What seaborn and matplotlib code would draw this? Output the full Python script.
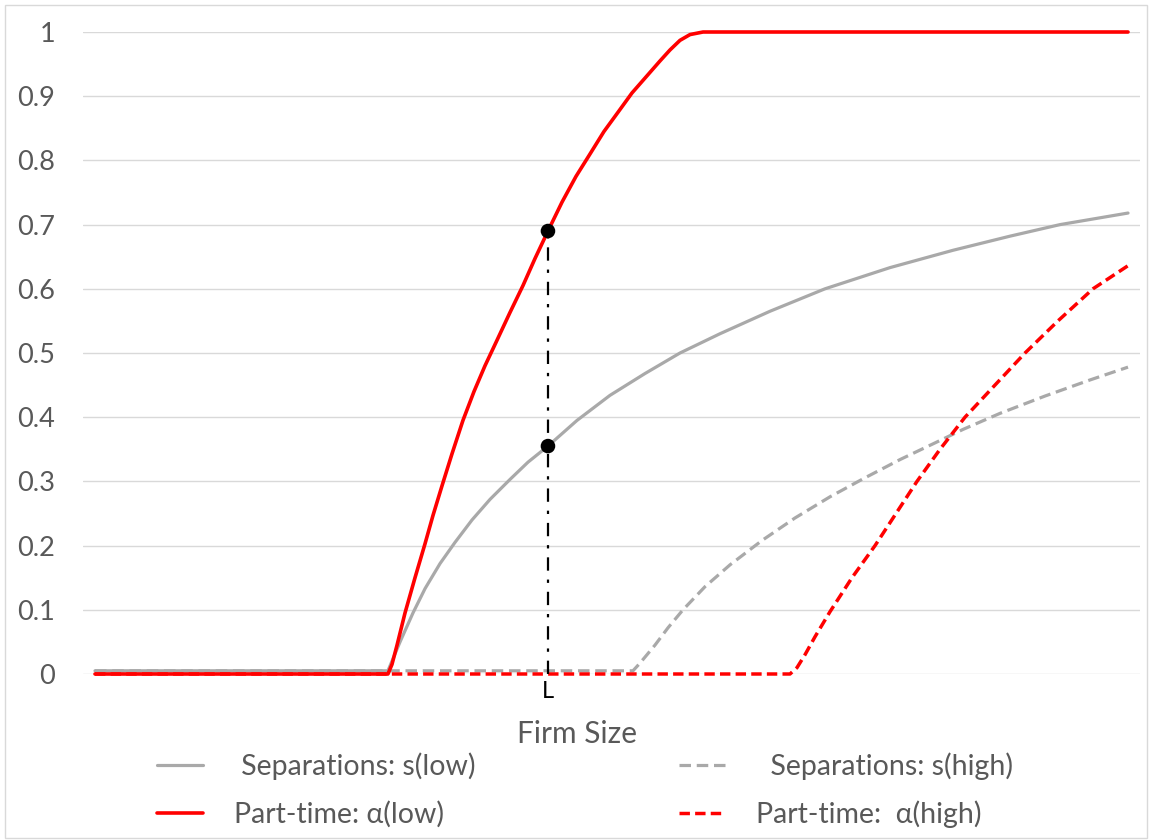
import numpy as np
import pandas as pd
import seaborn as sns
import matplotlib.pyplot as plt
from matplotlib.patches import Rectangle

# firm size runs on an arbitrary 0..100 scale (no numbers on the axis)
# s(low): separations, low type
s_low_x = [0, 28.36, 28.75, 29.53, 30.78, 31.95, 33.40, 34.85, 36.50, 38.24, 40.17, 41.92, 43.85,
           46.66, 49.85, 53.24, 56.63, 60.50, 65.34, 70.67, 76.96, 83.06, 88.58, 93.42, 100]
s_low_y = [0.005, 0.005, 0.02, 0.05, 0.095, 0.133, 0.172, 0.205, 0.24, 0.272, 0.303, 0.33, 0.355,
           0.395, 0.434, 0.468, 0.5, 0.53, 0.565, 0.6, 0.633, 0.66, 0.682, 0.70, 0.718]

# s(high): separations, high type
s_high_x = [0, 52.08, 52.76, 54.21, 55.47, 56.92, 59.05, 61.47, 64.57, 67.76, 71.15, 74.35,
            77.93, 81.32, 84.03, 87.61, 91.97, 96.32, 100]
s_high_y = [0.005, 0.005, 0.017, 0.045, 0.072, 0.1, 0.136, 0.17, 0.208, 0.243, 0.276, 0.304,
            0.334, 0.36, 0.381, 0.406, 0.433, 0.458, 0.478]

# alpha(low): part-time, low type
a_low_x = [0, 28.36, 28.75, 29.24, 30.01, 30.98, 31.95, 32.72, 33.59, 34.56, 35.62, 36.69,
           37.75, 38.92, 40.17, 41.43, 42.59, 43.85, 45.21, 46.56, 47.92, 49.27, 50.63,
           51.98, 53.34, 54.70, 55.66, 56.63, 57.60, 58.86, 100]
a_low_y = [0, 0, 0.015, 0.045, 0.095, 0.15, 0.203, 0.247, 0.293, 0.343, 0.395, 0.44,
           0.48, 0.52, 0.563, 0.605, 0.647, 0.69, 0.735, 0.775, 0.81, 0.845, 0.875,
           0.905, 0.93, 0.955, 0.972, 0.987, 0.996, 1.0, 1.0]

# alpha(high): part-time, high type
a_high_x = [0, 67.28, 67.96, 68.73, 69.70, 71.15, 73.28, 75.51, 77.54, 79.57, 81.80, 84.22,
            87.12, 90.03, 93.22, 96.61, 100]
a_high_y = [0, 0, 0.01, 0.03, 0.058, 0.097, 0.15, 0.2, 0.25, 0.3, 0.35, 0.4,
            0.45, 0.5, 0.55, 0.6, 0.636]

# marked firm size L and the two values there
L_x = 43.85
L_points_y = [0.69, 0.355]

ytick_vals = [0, 0.1, 0.2, 0.3, 0.4, 0.5, 0.6, 0.7, 0.8, 0.9, 1.0]
ytick_labels = ["0", "0.1", "0.2", "0.3", "0.4", "0.5", "0.6", "0.7", "0.8", "0.9", "1"]

RED = "#FF0000"
GRAY = "#A9A9A9"
TXT = "#595959"

sns.set_style("white")
plt.rcParams['font.family'] = ['Lato', 'Open Sans', 'DejaVu Sans']

fig = plt.figure(figsize=(11.5, 8.4), dpi=100)
ax = fig.add_axes([83 / 1150, 166 / 840, 1057 / 1150, 642 / 840])

line_kw = dict(ax=ax, sort=False, estimator=None, clip_on=False)
sns.lineplot(x=s_low_x, y=s_low_y, color=GRAY, lw=2.3, **line_kw)
h_s_low = ax.lines[-1]
sns.lineplot(x=s_high_x, y=s_high_y, color=GRAY, lw=2.3, linestyle=(0, (3.6, 1.8)), **line_kw)
h_s_high = ax.lines[-1]
sns.lineplot(x=a_high_x, y=a_high_y, color=RED, lw=2.5, linestyle=(0, (3.0, 1.5)), **line_kw)
h_a_high = ax.lines[-1]
sns.lineplot(x=a_low_x, y=a_low_y, color=RED, lw=2.6, **line_kw)
h_a_low = ax.lines[-1]

# dash-dot drop line at L
sns.lineplot(x=[L_x, L_x], y=[0, L_points_y[0]], ax=ax, color="black", lw=1.6,
             sort=False, estimator=None, linestyle=(0, (6, 4, 1.5, 4)), zorder=5)
sns.scatterplot(x=[L_x] * len(L_points_y), y=L_points_y, ax=ax, color="black",
                s=110, edgecolor="none", zorder=6)

ax.set_xlim(-1.16, 101.16)
ax.set_ylim(0, 1)
ax.set_yticks(ytick_vals)
ax.set_yticklabels(ytick_labels)
ax.set_xticks([L_x])
ax.set_xticklabels(["L"])
ax.tick_params(axis="y", length=0, pad=20, labelsize=19.5, labelcolor=TXT)
ax.tick_params(axis="x", length=0, pad=5, labelsize=17, labelcolor="black")
ax.grid(axis="y", color="#D9D9D9", lw=1.0)
ax.grid(axis="x", visible=False)
ax.set_axisbelow(True)
for sp in ax.spines.values():
    sp.set_visible(False)

ax.set_xlabel("Firm Size", fontsize=21.5, color=TXT)
ax.xaxis.set_label_coords(0.467, -0.072)

leg_kw = dict(frameon=False, fontsize=20.5, handlelength=1.6, handletextpad=1.1,
              labelspacing=0.72, borderpad=0, borderaxespad=0, labelcolor=TXT,
              loc="upper left")
fig.legend([h_s_low, h_a_low], [" Separations: s(low)", "Part-time: α(low)"],
           bbox_to_anchor=(157 / 1150, 0.104), **leg_kw)
fig.legend([h_s_high, h_a_high], ["  Separations: s(high)", "Part-time:  α(high)"],
           bbox_to_anchor=(679 / 1150, 0.104), **leg_kw)

fig.patches.append(Rectangle((0.004, 0.002), 0.993, 0.992, transform=fig.transFigure,
                             fill=False, edgecolor="#D9D9D9", lw=1.0))

fig.savefig("out.png", dpi=100)
